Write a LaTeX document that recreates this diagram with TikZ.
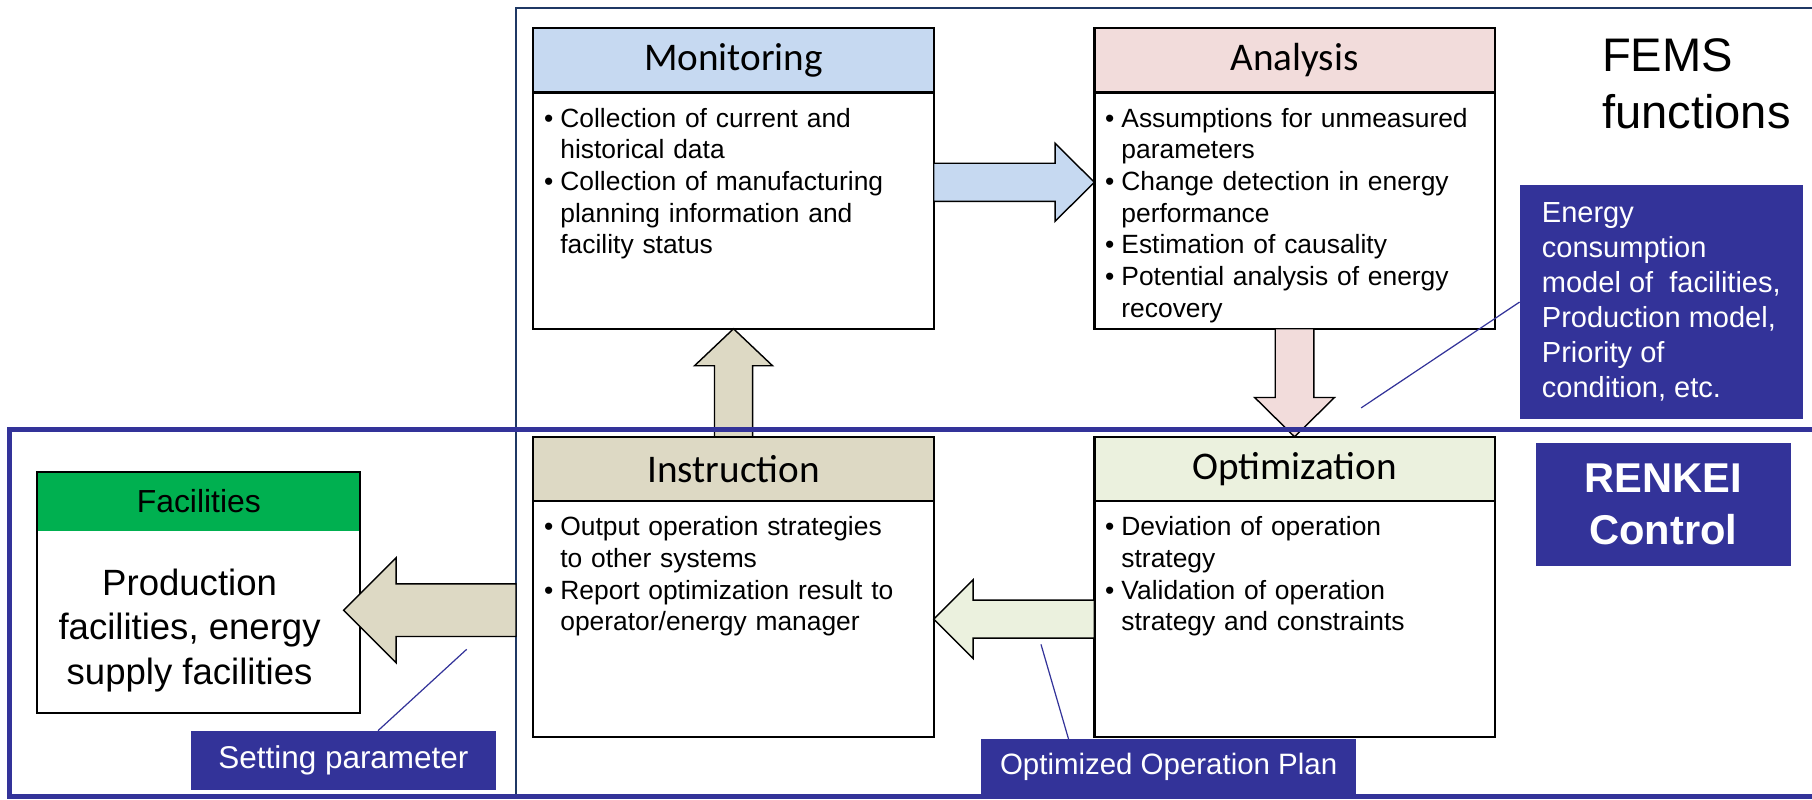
\documentclass[tikz,border=0pt]{standalone}
\usepackage{fontspec}
\setmainfont{Liberation Sans}
\newfontfamily\headfont{Carlito}
\usetikzlibrary{positioning,calc}

\definecolor{monblue}{HTML}{C6D9F1}
\definecolor{anapink}{HTML}{F2DCDB}
\definecolor{instan}{HTML}{DDD9C4}
\definecolor{optgreen}{HTML}{EBF1DE}
\definecolor{facgreen}{HTML}{00B050}
\definecolor{renkeiblue}{HTML}{333399}
\definecolor{femsnavy}{HTML}{1F3864}

\newcommand{\bitem}[1]{\noindent\hangindent=8pt\hangafter=1\strut\makebox[8pt][l]{\textbullet}#1\par}

\tikzset{blockarrow/.style n args={3}{to path={
    ($(\tikztostart)!#1!90:(\tikztotarget)$)
    -- ($(\tikztotarget)!#3!(\tikztostart)!#1!-90:(\tikztostart)$)
    -- ($(\tikztotarget)!#3!(\tikztostart)!#2!-90:(\tikztostart)$)
    -- (\tikztotarget)
    -- ($(\tikztotarget)!#3!(\tikztostart)!#2!90:(\tikztostart)$)
    -- ($(\tikztotarget)!#3!(\tikztostart)!#1!90:(\tikztostart)$)
    -- ($(\tikztostart)!#1!-90:(\tikztotarget)$)
    -- cycle}}}

\begin{document}
\begin{tikzpicture}[
    hdr/.style={draw, line width=1.1pt, minimum width=6.93cm, minimum height=1.11cm,
      inner sep=0pt, outer sep=0pt, font=\headfont\fontsize{19.3pt}{23pt}\selectfont},
    bodybox/.style={draw, line width=1.1pt, minimum width=6.93cm, minimum height=4.09cm,
      inner sep=0pt, outer sep=0pt},
    bodytxt/.style={text width=6.6cm, align=left, inner sep=0pt,
      font=\fontsize{13pt}{15.6pt}\selectfont},
    tag/.style={fill=renkeiblue, text=white, inner sep=0pt},
    tagline/.style={draw=renkeiblue, line width=0.6pt},
    arrowbody/.style={draw, line width=0.7pt}]

  \useasboundingbox (0,0) rectangle (31.36,-13.84);

  \node[draw=femsnavy, line width=1pt, minimum width=22.6cm, minimum height=13.65cm,
    inner sep=0pt, outer sep=0pt, anchor=north west] (fems) at (8.93,-0.144) {};

  \node[hdr, fill=monblue, anchor=north west] (mon) at (9.23,-0.49) {Monitoring};
  \node[bodybox, below=0pt of mon] (monbody) {};
  \node[hdr, fill=anapink, right=2.78cm of mon] (ana) {Analysis};
  \node[bodybox, below=0pt of ana] (anabody) {};
  \node[hdr, fill=instan, below=1.87cm of monbody] (ins) {Instruction};
  \node[bodybox, below=0pt of ins] (insbody) {};
  \node[hdr, fill=optgreen, right=2.78cm of ins] (opt) {Optimization};
  \node[bodybox, below=0pt of opt] (optbody) {};

  \node[bodytxt, below right=0.21cm and 0.18cm of monbody.north west] (montxt)
    {\bitem{Collection of current and\newline historical data}%
     \bitem{Collection of manufacturing\newline planning information and\newline facility status}};
  \node[bodytxt, below right=0.21cm and 0.18cm of anabody.north west] (anatxt)
    {\bitem{Assumptions for unmeasured\newline parameters}%
     \bitem{Change detection in energy\newline performance}%
     \bitem{Estimation of causality}%
     \bitem{Potential analysis of energy\newline recovery}};
  \node[bodytxt, below right=0.21cm and 0.18cm of insbody.north west] (instxt)
    {\bitem{Output operation strategies\newline to other systems}%
     \bitem{Report optimization result to\newline operator/energy manager}};
  \node[bodytxt, below right=0.21cm and 0.18cm of optbody.north west] (opttxt)
    {\bitem{Deviation of operation\newline strategy}%
     \bitem{Validation of operation\newline strategy and constraints}};

  \node[fill=facgreen, minimum width=5.59cm, minimum height=1.02cm, inner sep=0pt,
    outer sep=0pt, anchor=north west, font=\fontsize{15.7pt}{19pt}\selectfont] (fac)
    at (0.646,-8.166) {Facilities};
  \node[minimum width=5.59cm, minimum height=3.15cm, inner sep=0pt, outer sep=0pt,
    below=0pt of fac] (facbody) {};
  \draw[line width=1.1pt] (fac.north west) rectangle (facbody.south east);
  \node[align=center, inner sep=0pt, font=\fontsize{18pt}{22.1pt}\selectfont] (factxt)
    at ($(facbody.center)+(-0.16,-0.15)$) {Production\\facilities, energy\\supply facilities};

  \node[inner sep=0pt, align=left, anchor=north west, font=\fontsize{23.2pt}{28.2pt}\selectfont]
    (femstxt) at (27.72,-0.66) {FEMS\\functions};

  \coordinate (monout) at ($(monbody.east)+(0,0.49)$);
  \coordinate (anain) at (monout -| anabody.west);
  \coordinate (facin) at ($(facbody.east)+(-0.29,0.2)$);
  \coordinate (insout) at (facin -| fems.west);
  \draw[arrowbody, fill=monblue, blockarrow={0.33cm}{0.675cm}{0.68cm}] (monout) to (anain);
  \draw[arrowbody, fill=anapink, blockarrow={0.335cm}{0.69cm}{0.68cm}] (anabody.south) to (opt.north);
  \draw[arrowbody, fill=instan, blockarrow={0.33cm}{0.675cm}{0.64cm}] (ins.north) to (monbody.south);
  \draw[arrowbody, fill=optgreen, blockarrow={0.33cm}{0.68cm}{0.68cm}] (optbody.west) to (insbody.east);
  \draw[arrowbody, fill=instan, blockarrow={0.455cm}{0.91cm}{0.91cm}] (insout) to (facin);

  \node[draw=renkeiblue, line width=2.4pt, minimum width=31.5cm, minimum height=6.35cm,
    inner sep=0pt, outer sep=0pt, anchor=north west] (renkeiframe) at (0.16,-7.44) {};

  \node[tag, minimum width=4.89cm, minimum height=4.06cm, align=left, anchor=north west,
    font=\fontsize{14.3pt}{17.3pt}\selectfont] (energy)
    at (26.3,-3.19) {Energy\\consumption\\model of~~facilities,\\Production model,\\Priority of\\condition, etc.};
  \node[tag, minimum width=4.41cm, minimum height=2.12cm, align=center,
    font=\bfseries\fontsize{20.5pt}{25.5pt}\selectfont] (renkei) at (28.785,-8.731) {RENKEI\\Control};
  \node[tag, minimum width=5.27cm, minimum height=1.02cm, font=\fontsize{15.5pt}{18pt}\selectfont]
    (setpar) at (5.943,-13.162) {Setting parameter};
  \node[tag, minimum width=6.49cm, minimum height=0.96cm, font=\fontsize{14.5pt}{17pt}\selectfont]
    (optplan) at (20.225,-13.278) {Optimized Operation Plan};

  \coordinate (enfoot) at (23.556,-7.06);
  \coordinate (planfoot) at (18.016,-11.152);
  \coordinate (setfoot) at (8.076,-11.238);
  \draw[tagline] (energy.west) -- (enfoot);
  \draw[tagline] ([xshift=1.52cm]optplan.north west) -- (planfoot);
  \draw[tagline] ([xshift=0.6cm]setpar.north) -- (setfoot);
\end{tikzpicture}
\end{document}
